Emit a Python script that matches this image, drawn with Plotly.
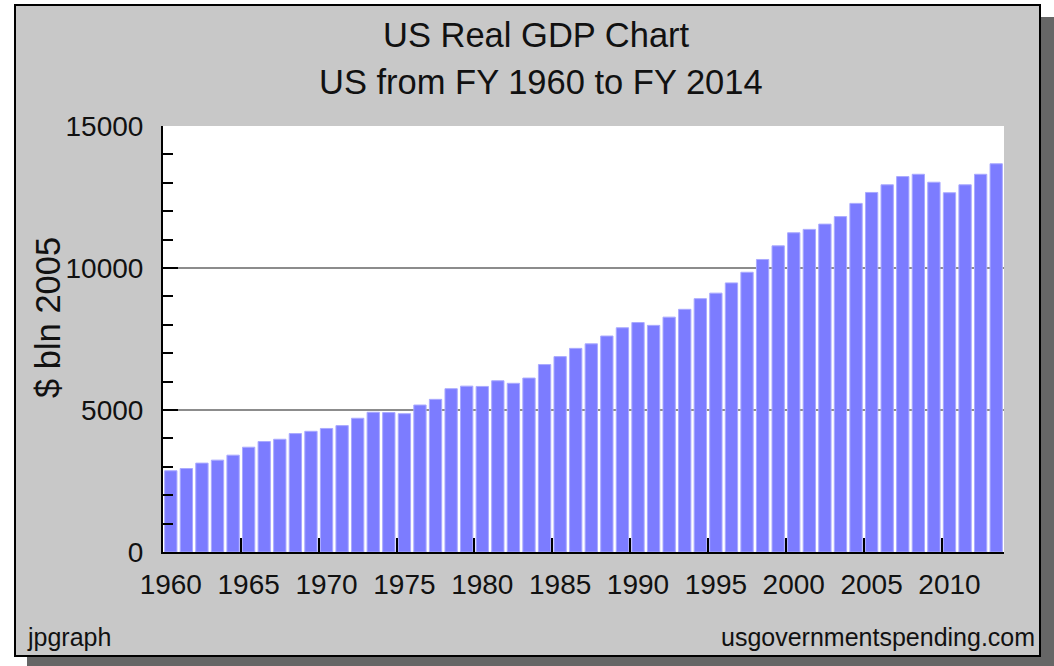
import plotly.graph_objects as go

years = list(range(1960, 2014))
gdp = [2860, 2940, 3130, 3235, 3410, 3690, 3890, 3970, 4170, 4250,
       4350, 4450, 4710, 4920, 4910, 4870, 5175, 5375, 5750, 5840,
       5830, 6030, 5940, 6125, 6600, 6880, 7170, 7330, 7605, 7895,
       8080, 7980, 8270, 8545, 8920, 9115, 9475, 9850, 10300, 10780,
       11240, 11360, 11545, 11810, 12275, 12660, 12930, 13220, 13300, 13020,
       12650, 12930, 13300, 13670]
label_years = [1960, 1965, 1970, 1975, 1980, 1985, 1990, 1995, 2000, 2005, 2010]
y_ticks = [0, 5000, 10000, 15000]

title = "US Real GDP Chart"
subtitle = "US from FY 1960 to FY 2014"
y_title = "$ bln 2005"
footer_left = "jpgraph"
footer_right = "usgovernmentspending.com"

W, H = 1054, 666
L, R, T, B = 163, 1004, 126, 552
PW, PH = R - L, B - T


def px(x):
    return (x - L) / PW


def py(y):
    return (B - y) / PH


fig = go.Figure()
fig.add_trace(go.Bar(
    x=years, y=gdp,
    marker=dict(color="#7c7cff", line=dict(color="#aaaaff", width=1)),
    showlegend=False, hoverinfo="x+y",
))
# invisible trace to carry the tick-only overlay axis
fig.add_trace(go.Scatter(x=[years[0]], y=[0], xaxis="x2", mode="markers",
                         marker=dict(opacity=0), showlegend=False, hoverinfo="skip"))

font_main = "Liberation Sans, Arial, sans-serif"

fig.update_layout(
    width=W, height=H,
    margin=dict(l=L, r=W - R, t=T, b=H - B, pad=0),
    paper_bgcolor="white",
    plot_bgcolor="white",
    bargap=0.21,
    font=dict(family=font_main, color="#111111", size=28),
    xaxis=dict(
        range=[years[0] - 0.5, years[-1] + 0.5],
        tickvals=label_years, ticktext=[str(v) for v in label_years],
        ticks="", showgrid=False, zeroline=False,
        showline=True, linecolor="black", linewidth=2,
        tickfont=dict(size=28, family=font_main, color="#111111"),
        ticklabelstandoff=6,
    ),
    xaxis2=dict(
        overlaying="x", anchor="y", side="bottom",
        range=[years[0] - 0.5, years[-1] + 0.5],
        tickvals=[v - 0.5 for v in label_years],
        ticks="inside", ticklen=14, tickwidth=2, tickcolor="black",
        showticklabels=False, showgrid=False, zeroline=False, showline=False,
    ),
    yaxis=dict(
        range=[0, 15000],
        tickvals=y_ticks, ticktext=[str(v) for v in y_ticks],
        ticks="inside", ticklen=15, tickwidth=2, tickcolor="black",
        showgrid=True, gridcolor="#8c8c8c", gridwidth=2,
        zeroline=False,
        showline=True, linecolor="black", linewidth=2,
        tickfont=dict(size=28, family=font_main, color="#111111"),
        ticklabelstandoff=12,
        minor=dict(dtick=1000, ticks="inside", ticklen=10, tickwidth=2,
                   tickcolor="black", showgrid=False),
    ),
    shapes=[
        dict(type="rect", xref="paper", yref="paper", layer="below",
             x0=px(27), x1=px(1054), y0=py(666), y1=py(17),
             fillcolor="#666666", line=dict(width=0)),
        dict(type="rect", xref="paper", yref="paper", layer="below",
             x0=px(15), x1=px(1040), y0=py(656), y1=py(5),
             fillcolor="#c8c8c8", line=dict(color="black", width=2)),
        dict(type="rect", xref="paper", yref="paper", layer="below",
             x0=0, x1=1, y0=0, y1=1,
             fillcolor="white", line=dict(width=0)),
    ],
    annotations=[
        dict(text=title, xref="paper", yref="paper", x=px(536), y=py(35),
             xanchor="center", yanchor="middle", showarrow=False,
             font=dict(size=34.5, family=font_main, color="#111111")),
        dict(text=subtitle, xref="paper", yref="paper", x=px(541), y=py(82),
             xanchor="center", yanchor="middle", showarrow=False,
             font=dict(size=34.5, family=font_main, color="#111111")),
        dict(text=y_title, xref="paper", yref="paper", x=px(48), y=py(317),
             xanchor="center", yanchor="middle", showarrow=False, textangle=-90,
             font=dict(size=34.5, family=font_main, color="#111111")),
        dict(text=footer_left, xref="paper", yref="paper", x=px(25), y=py(637),
             xanchor="left", yanchor="middle", showarrow=False,
             font=dict(size=25, family=font_main, color="#111111")),
        dict(text=footer_right, xref="paper", yref="paper", x=px(1037), y=py(637),
             xanchor="right", yanchor="middle", showarrow=False,
             font=dict(size=25, family=font_main, color="#111111")),
    ],
)

fig.write_html("out.html",
               config={"displayModeBar": False},
               post_script="document.body.style.margin='0px';"
                           "document.body.style.overflow='hidden';")
